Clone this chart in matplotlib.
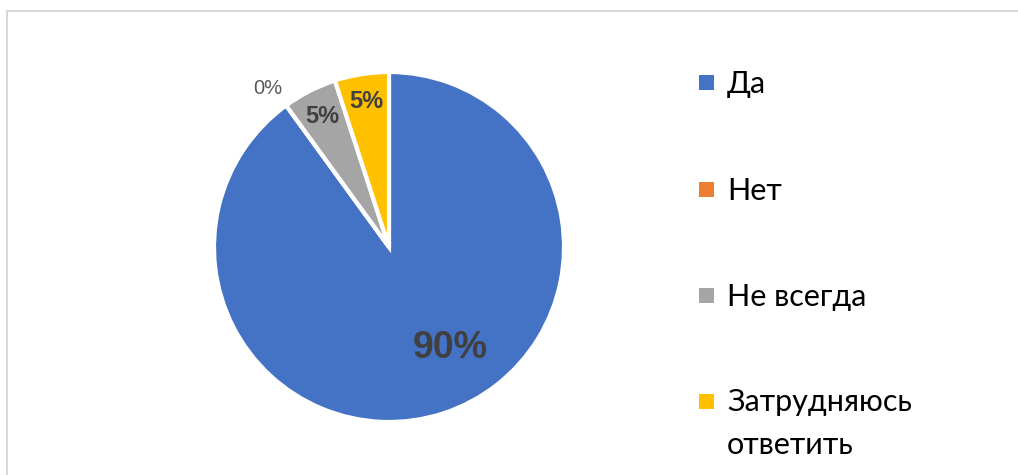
import matplotlib
matplotlib.use("Agg")
import matplotlib.pyplot as plt
import matplotlib.patches as mpatches
import numpy as np

categories = ["Да", "Нет", "Не всегда", "Затрудняюсь\nответить"]
values = [90, 0, 5, 5]
pct_labels = ["90%", "0%", "5%", "5%"]
colors = ["#4472C4", "#ED7D31", "#A5A5A5", "#FFC000"]

W, H = 1018, 475
fig = plt.figure(figsize=(W / 100, H / 100), dpi=100)
fig.patch.set_facecolor("white")

# outer chart frame
fig.add_artist(mpatches.Rectangle((7 / W, -0.05), 1.1, (H - 11) / H + 0.05,
                                  transform=fig.transFigure, fill=False,
                                  edgecolor="#D9D9D9", linewidth=1.5))

cx, cy, r = 389, 247, 175
ax = fig.add_axes([(cx - r) / W, (H - cy - r) / H, 2 * r / W, 2 * r / H])
wedges, _ = ax.pie(values, colors=colors, startangle=90, counterclock=False,
                   radius=1.0, wedgeprops=dict(edgecolor="white", linewidth=3))
ax.set_xlim(-1, 1)
ax.set_ylim(-1, 1)
ax.set_aspect("equal")
ax.axis("off")

# data labels
for i, (w, lab) in enumerate(zip(wedges, pct_labels)):
    mid = (w.theta1 + w.theta2) / 2.0
    if values[i] >= 50:
        ang, dist, fs, fw, col = mid + 13, 0.675, 27, "bold", "#404040"
    elif values[i] == 0:
        ang, dist, fs, fw, col = mid + 1.5, 1.14, 14.5, "normal", "#595959"
    else:
        ang, dist, fs, fw, col = mid, 0.84, 17, "bold", "#404040"
    x = dist * np.cos(np.radians(ang))
    y = dist * np.sin(np.radians(ang))
    ax.text(x, y, lab, ha="center", va="center", fontsize=fs, fontweight=fw,
            color=col, family="Liberation Sans")

# legend (manual, Excel-like)
leg_y = [82.5, 189.5, 295.5, 401]
for lab, col, yc in zip(categories, colors, leg_y):
    fig.add_artist(mpatches.Rectangle((699 / W, (H - yc - 7.5) / H), 15 / W, 15 / H,
                                      transform=fig.transFigure, facecolor=col,
                                      edgecolor="none"))
    for k, ln in enumerate(lab.split("\n")):
        fig.text(727 / W, (H - yc - 10.5 - 42 * k) / H, ln, ha="left",
                 va="baseline", fontsize=22, family="Lato", color="black")

fig.savefig("out.png", dpi=100, facecolor="white")
